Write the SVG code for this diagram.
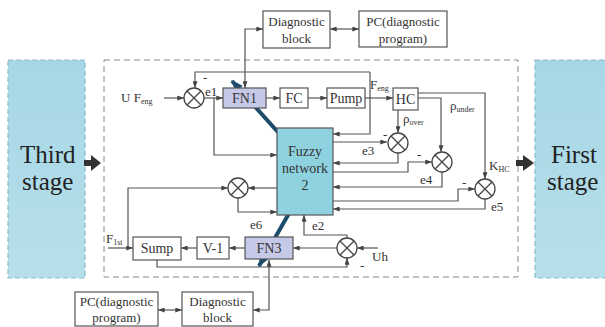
<svg xmlns="http://www.w3.org/2000/svg" width="605" height="327" viewBox="0 0 605 327">
<style>
text{font-family:"Liberation Serif","Times New Roman",serif;fill:#333}
.box{fill:#fff;stroke:#555;stroke-width:1.2}
.fn{fill:#c6c8e8;stroke:#555;stroke-width:1.2}
.t{font-size:14px;text-anchor:middle}
.s{font-size:13px}
.sub{font-size:8px}
.w{fill:none;stroke:#555;stroke-width:1.2}
.a{marker-end:url(#ar)}
.d{marker-start:url(#ar);marker-end:url(#ar)}
.sum circle{fill:#fff;stroke:#444;stroke-width:1.3}
.sum path{stroke:#444;stroke-width:1.3}
.stage{fill:url(#sg);stroke:#8abccc;stroke-width:1.2;stroke-dasharray:5 3}
.big{font-size:25px;fill:#222}
</style>
<defs>
<marker id="ar" viewBox="0 0 8 6" refX="8" refY="3" markerWidth="7" markerHeight="5" markerUnits="userSpaceOnUse" orient="auto-start-reverse"><path d="M0,0L8,3L0,6z" fill="#444"/></marker>
<marker id="tk" viewBox="0 0 10 8" refX="9" refY="4" markerWidth="12" markerHeight="10" markerUnits="userSpaceOnUse" orient="auto"><path d="M0,0L10,4L0,8z" fill="#1e4d6b"/></marker>
<linearGradient id="sg" x1="0" y1="0" x2="0" y2="1"><stop offset="0" stop-color="#a7d7e6"/><stop offset="1" stop-color="#b6dfea"/></linearGradient>
</defs>

<g id="third-stage"><rect class="stage" x="8" y="60" width="77" height="218"/><text class="big" x="20" y="163">Third</text><text class="big" x="22" y="190">stage</text></g>
<g id="first-stage"><rect class="stage" x="535" y="60" width="75" height="218"/><text class="big" x="551" y="163">First</text><text class="big" x="547" y="190">stage</text></g>
<g id="frame"><rect x="104" y="60" width="414" height="217" fill="none" stroke="#888" stroke-width="1" stroke-dasharray="6 4"/></g>

<g id="connectors">
<!-- stage arrows -->
<path d="M84,163H93" stroke="#333" stroke-width="6" fill="none"/><path d="M91,155L101,163L91,171z" fill="#333"/>
<path d="M516,163H525" stroke="#333" stroke-width="6" fill="none"/><path d="M523,155L534,163L523,171z" fill="#333"/>
<!-- diag top -->
<path class="w d" d="M245,88V29H263"/>
<path class="w d" d="M330,29H359"/>
<!-- diag bottom -->
<path class="w d" d="M269,260V310H253"/>
<path class="w d" d="M158,310H182"/>
<!-- main path -->
<path class="w a" d="M164,98H184"/>
<path class="w a" d="M204,98H223"/>
<path class="w a" d="M266,98H280"/>
<path class="w a" d="M308,98H327"/>
<path class="w a" d="M365,98H393"/>
<path class="w a" d="M370,72H195V88"/>
<path class="w a" d="M370,72V134H333"/>
<path class="w a" d="M214,98V155H277"/>
<!-- HC outputs -->
<path class="w a" d="M398,110V133"/>
<path class="w a" d="M418,98H441V152"/>
<path class="w a" d="M418,93H485V179"/>
<!-- fuzzy right side -->
<path class="w a" d="M333,142H387"/>
<path class="w a" d="M398,153V163H333"/>
<path class="w a" d="M333,172H408V162H432"/>
<path class="w a" d="M442,172V187H333"/>
<path class="w a" d="M333,201H458V189H475"/>
<path class="w a" d="M485,199V209H333"/>
<!-- e6 -->
<path class="w a" d="M277,188H248"/>
<path class="w a" d="M238,198V212H277"/>
<path class="w a" d="M128,248V188H228"/>
<path class="w a" d="M108,248H133"/>
<!-- bottom chain -->
<path class="w a" d="M245,248H229"/>
<path class="w a" d="M197,248H181"/>
<path class="w a" d="M337,248H293"/>
<path class="w a" d="M378,248H357"/>
<path class="w a" d="M157,260V267H347V258"/>
<path class="w a" d="M347,238V235H304V215"/>
<!-- thick arrows -->
<path d="M285,140L232,81" stroke="#1e4d6b" stroke-width="4" fill="none" marker-end="url(#tk)"/>
<path d="M292,208L259,266" stroke="#1e4d6b" stroke-width="4" fill="none" marker-end="url(#tk)"/>
</g>

<g id="diag-top"><rect class="box" x="263" y="11" width="67" height="37"/><text class="t s" x="296.5" y="26">Diagnostic</text><text class="t s" x="296.5" y="43">block</text></g>
<g id="pc-top"><rect class="box" x="359" y="11" width="88" height="36"/><text class="t s" x="403" y="26">PC(diagnostic</text><text class="t s" x="403" y="43">program)</text></g>
<g id="diag-bottom"><rect class="box" x="182" y="292" width="71" height="34"/><text class="t s" x="217.5" y="306">Diagnostic</text><text class="t s" x="217.5" y="322">block</text></g>
<g id="pc-bottom"><rect class="box" x="75" y="292" width="83" height="34"/><text class="t s" x="116.5" y="306">PC(diagnostic</text><text class="t s" x="116.5" y="322">program)</text></g>

<g id="fn1"><rect class="fn" x="223" y="88" width="43" height="20"/><text class="t" x="244.5" y="103">FN1</text></g>
<g id="fc"><rect class="box" x="280" y="88" width="28" height="20"/><text class="t" x="294" y="103">FC</text></g>
<g id="pump"><rect class="box" x="327" y="88" width="38" height="20"/><text class="t" x="346" y="103">Pump</text></g>
<g id="hc"><rect class="box" x="393" y="88" width="25" height="22"/><text class="t" x="405.5" y="104">HC</text></g>
<g id="fuzzy"><rect x="277" y="128" width="56" height="87" fill="#8fd2df" stroke="#555" stroke-width="1.2"/><text class="t" x="305" y="156" fill="#1e3f5a">Fuzzy</text><text class="t" x="305" y="173" fill="#1e3f5a">network</text><text class="t" x="305" y="190" fill="#1e3f5a">2</text></g>
<g id="sump"><rect class="box" x="133" y="237" width="48" height="23"/><text class="t" x="157" y="253">Sump</text></g>
<g id="v1"><rect class="box" x="197" y="237" width="32" height="22"/><text class="t" x="213" y="253">V-1</text></g>
<g id="fn3"><rect class="fn" x="245" y="237" width="48" height="22"/><text class="t" x="269" y="253">FN3</text></g>

<g id="sum1" class="sum"><circle cx="194" cy="98" r="10"/><path d="M187,91L201,105M201,91L187,105"/></g>
<g id="sum-e3" class="sum"><circle cx="398" cy="143" r="10"/><path d="M391,136L405,150M405,136L391,150"/></g>
<g id="sum-e4" class="sum"><circle cx="442" cy="162" r="10"/><path d="M435,155L449,169M449,155L435,169"/></g>
<g id="sum-e5" class="sum"><circle cx="485" cy="189" r="10"/><path d="M478,182L492,196M492,182L478,196"/></g>
<g id="sum-e6" class="sum"><circle cx="238" cy="188" r="10"/><path d="M231,181L245,195M245,181L231,195"/></g>
<g id="sum-e2" class="sum"><circle cx="347" cy="248" r="10"/><path d="M340,241L354,255M354,241L340,255"/></g>

<g id="labels">
<text class="s" x="121" y="102">U F<tspan class="sub" dy="2">eng</tspan></text>
<text class="s" x="203" y="82">-</text>
<text class="s" x="205" y="96">e1</text>
<text class="s" x="370" y="89">F<tspan class="sub" dy="2">eng</tspan></text>
<text class="s" x="403" y="123">ρ<tspan class="sub" dy="2">over</tspan></text>
<text class="s" x="450" y="110">ρ<tspan class="sub" dy="2">under</tspan></text>
<text class="s" x="383" y="139">-</text>
<text class="s" x="362" y="155">e3</text>
<text class="s" x="417" y="159">-</text>
<text class="s" x="420" y="184">e4</text>
<text class="s" x="462" y="187">-</text>
<text class="s" x="489" y="170">K<tspan class="sub" dy="2">HC</tspan></text>
<text class="s" x="491" y="211">e5</text>
<text class="s" x="250" y="229">e6</text>
<text class="s" x="312" y="230">e2</text>
<text class="s" x="372" y="261">Uh</text>
<text class="s" x="360" y="270">-</text>
<text class="s" x="106" y="243">F<tspan class="sub" dy="2">1st</tspan></text>
</g>
</svg>
